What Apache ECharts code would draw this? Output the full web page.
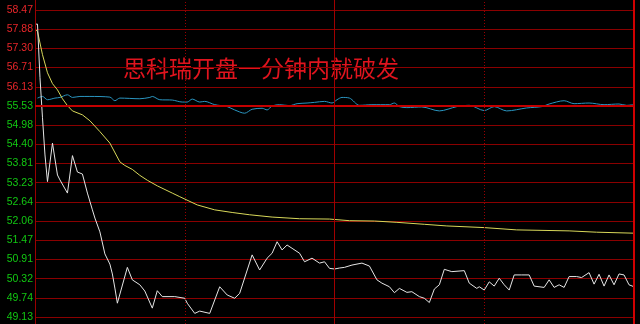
<!DOCTYPE html>
<html>
<head>
<meta charset="utf-8">
<script src="https://cdn.jsdelivr.net/npm/echarts@6/dist/echarts.min.js"></script>
<style>
html,body{margin:0;padding:0;background:#000;}
#c{width:640px;height:324px;}
</style>
</head>
<body>
<div id="c"></div>
<script>
const tickLabels = ['58.47','57.88','57.30','56.71','56.13','55.53','54.98','54.40','53.81','53.23','52.64','52.06','51.47','50.91','50.32','49.74','49.13'];
const titleText = '思科瑞开盘一分钟内就破发';

// price line (minute index, price)
const priceMin = [0,1,2,3,4,5,7,9,10,13,15,17,19,21,23,24,26,28,30,31,32,33,37,39,42,44,47,49,51,56,60,61,64,66,70,74,77,80,82,87,90,93,95,97,99,101,103,106,108,111,114,116,118,120,122,124,127,131,134,137,139,142,144,146,149,151,154,156,158,160,162,164,167,172,174,177,178,180,182,184,186,188,190,192,195,198,200,204,206,208,210,212,214,217,219,222,224,226,228,230,232,234,236,238,240];
const priceVal = [58.04,58.04,56.41,55.19,54.06,53.25,54.42,53.45,53.30,52.90,54.04,53.54,53.48,52.90,52.39,52.14,51.72,51.05,50.74,50.44,50.01,49.55,50.64,50.26,50.11,49.92,49.40,49.93,49.75,49.75,49.70,49.55,49.24,49.31,49.24,50.05,49.80,49.70,49.85,51.02,50.56,50.92,51.07,51.42,51.17,51.32,51.22,51.07,50.81,50.92,50.77,50.81,50.61,50.59,50.62,50.64,50.71,50.77,50.68,50.26,50.16,50.05,49.87,50.00,49.88,49.90,49.75,49.70,49.57,49.98,50.11,50.58,50.51,50.54,50.16,50.00,50.05,49.95,50.20,50.07,50.31,50.11,49.95,50.41,50.41,50.41,50.07,50.03,50.26,50.03,50.11,50.03,50.36,50.36,50.33,50.48,50.13,50.43,50.07,50.41,50.11,50.44,50.41,50.11,50.05];

// average price line
const avgMin = [0,1,3,5,7,9,11,13,15,19,22,26,30,34,36,39,42,45,49,55,58,65,72,79,86,95,106,118,126,136,145,156,165,180,193,214,225,240];
const avgVal = [57.88,57.82,57.11,56.56,56.23,56.04,55.77,55.56,55.40,55.28,55.10,54.77,54.42,53.85,53.74,53.62,53.44,53.29,53.12,52.90,52.79,52.54,52.39,52.31,52.24,52.17,52.12,52.11,52.06,52.05,52.01,51.95,51.90,51.85,51.78,51.75,51.71,51.68];

// index overlay line
const idxMin = [1,3,5,8,10,13,15,18,22,30,32,34,42,46,47,50,55,59,61,63,66,68,72,77,80,84,87,91,93,95,98,102,105,109,112,116,119,121,123,126,130,135,142,144,146,149,155,162,169,174,180,184,189,197,203,206,212,216,222,228,234,237,240];
const idxVal = [55.79,55.84,55.74,55.79,55.81,55.89,55.81,55.84,55.84,55.82,55.71,55.79,55.77,55.81,55.84,55.74,55.73,55.67,55.67,55.76,55.67,55.69,55.59,55.53,55.43,55.33,55.45,55.48,55.43,55.55,55.59,55.56,55.62,55.64,55.66,55.69,55.64,55.74,55.81,55.79,55.57,55.59,55.59,55.64,55.53,55.50,55.52,55.40,55.53,55.57,55.41,55.53,55.40,55.49,55.53,55.61,55.71,55.62,55.64,55.59,55.61,55.57,55.59];

const zip = (a, b) => a.map((m, i) => [m, b[i]]);

const chart = echarts.init(document.getElementById('c'), null, {renderer: 'canvas'});
const option = {
  backgroundColor: '#000000',
  animation: false,
  grid: [
    {left: 35, right: 6, top: 10, bottom: 7},
    {left: 35, right: 6, top: 0, bottom: 0}
  ],
  xAxis: [
    {gridIndex: 0, type: 'value', min: 0, max: 240, show: false},
    {gridIndex: 1, type: 'value', min: 0, max: 240, show: false}
  ],
  yAxis: [
    {gridIndex: 0, type: 'value', min: 49.13, max: 58.47, show: false},
    {gridIndex: 0, type: 'value', position: 'left', min: 0, max: 16, interval: 1,
      axisLine: {show: false}, axisTick: {show: false},
      axisLabel: {
        margin: 2,
        fontSize: 10.5,
        fontFamily: 'Liberation Sans, Arial, sans-serif',
        formatter: v => tickLabels[16 - v],
        color: (v) => v > 11 ? '#e8262a' : (v === 11 ? '#d8dde8' : '#12c812')
      },
      splitLine: {show: true, lineStyle: {color: '#8a0000', width: 1}}
    },
    {gridIndex: 1, type: 'value', min: 0, max: 1, show: false}
  ],
  graphic: [{
    type: 'text', left: 123, top: 57,
    style: {text: titleText, fontSize: 23, fill: '#e0141e',
      fontFamily: 'Noto Sans CJK SC', fontWeight: 'normal'}
  }],
  series: [
    {
      type: 'line', xAxisIndex: 1, yAxisIndex: 2, data: [[0, 0]], symbol: 'none',
      lineStyle: {opacity: 0}, silent: true,
      markLine: {
        silent: true, symbol: 'none', label: {show: false}, animation: false,
        data: [
          {xAxis: 0, lineStyle: {color: '#9a0000', width: 1, type: 'solid'}},
          {xAxis: 60, lineStyle: {color: '#9a0000', width: 1, type: [1, 2]}},
          {xAxis: 120, lineStyle: {color: '#a00000', width: 1, type: 'solid'}},
          {xAxis: 180, lineStyle: {color: '#9a0000', width: 1, type: [1, 2]}},
          {xAxis: 240, lineStyle: {color: '#d00000', width: 2, type: 'solid'}}
        ]
      }
    },
    {
      type: 'line', xAxisIndex: 0, yAxisIndex: 1, data: [[0, 11]], symbol: 'none',
      lineStyle: {opacity: 0}, silent: true,
      markLine: {
        silent: true, symbol: 'none', label: {show: false}, animation: false,
        data: [{yAxis: 11, lineStyle: {color: '#c40000', width: 2, type: 'solid'}}]
      }
    },
    {
      name: 'index', type: 'line', xAxisIndex: 0, yAxisIndex: 0, data: zip(idxMin, idxVal),
      symbol: 'none', smooth: 0.3, lineStyle: {color: '#2a95c0', width: 1}
    },
    {
      name: 'avg', type: 'line', xAxisIndex: 0, yAxisIndex: 0, data: zip(avgMin, avgVal),
      symbol: 'none', lineStyle: {color: '#d8d85a', width: 1}
    },
    {
      name: 'price', type: 'line', xAxisIndex: 0, yAxisIndex: 0, data: zip(priceMin, priceVal),
      symbol: 'none', lineStyle: {color: '#e6e6e6', width: 1}
    }
  ]
};
chart.setOption(option);
</script>
</body>
</html>
